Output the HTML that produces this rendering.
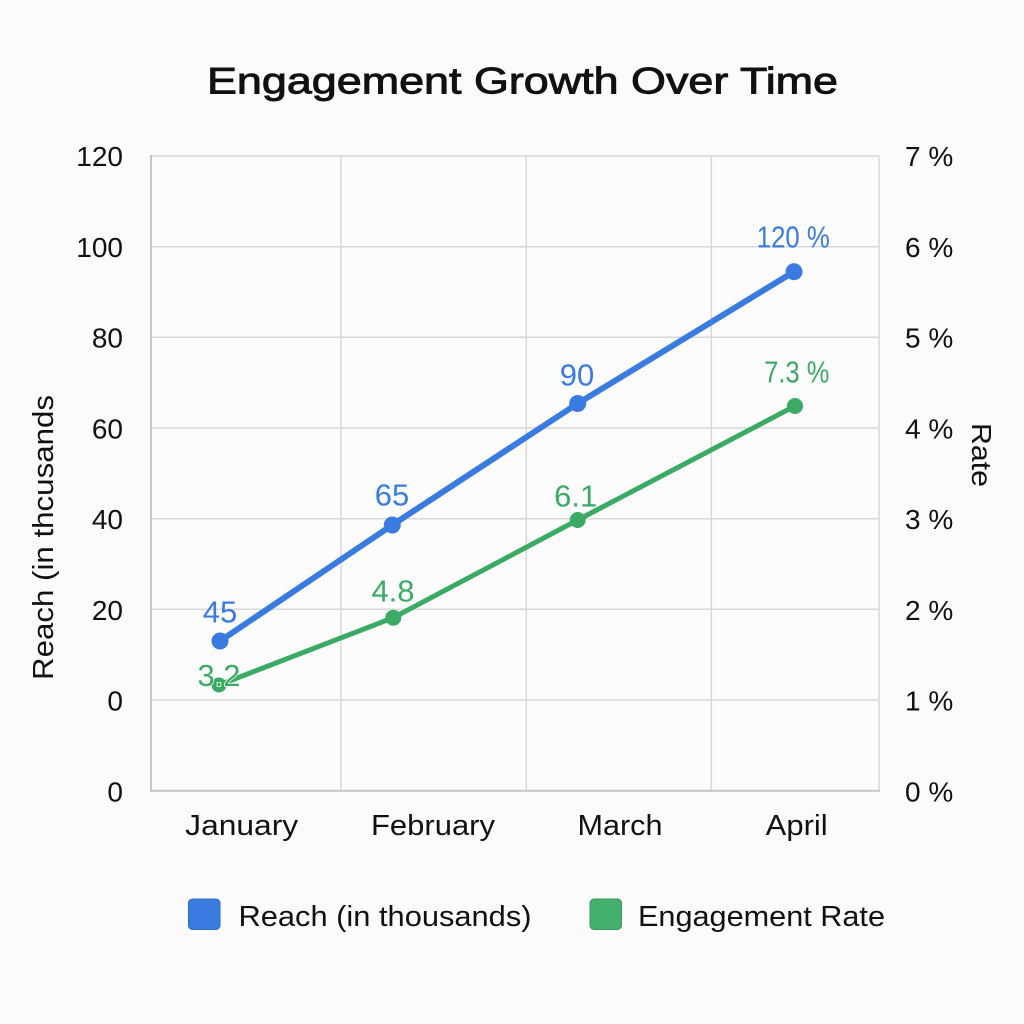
<!DOCTYPE html>
<html>
<head>
<meta charset="utf-8">
<style>
  html, body { margin:0; padding:0; background:#fbfbfb; }
  svg { display:block; }
  text { font-family: "Liberation Sans", "DejaVu Sans", sans-serif; }
</style>
</head>
<body>
<svg width="1024" height="1024" viewBox="0 0 1024 1024" xmlns="http://www.w3.org/2000/svg">
  <rect x="0" y="0" width="1024" height="1024" fill="#fbfbfb"/>

  <!-- Title -->
  <text x="522.5" y="93.5" font-size="37" fill="#111" stroke="#111" stroke-width="0.9" text-anchor="middle" textLength="631" lengthAdjust="spacingAndGlyphs">Engagement Growth Over Time</text>

  <!-- Plot background -->
  <rect x="151" y="156" width="728" height="635" fill="#fcfcfc"/>

  <!-- Horizontal gridlines -->
  <g stroke="#d8d8d8" stroke-width="1.5">
    <line x1="151" y1="156" x2="879" y2="156"/>
    <line x1="151" y1="246.7" x2="879" y2="246.7"/>
    <line x1="151" y1="337.3" x2="879" y2="337.3"/>
    <line x1="151" y1="428" x2="879" y2="428"/>
    <line x1="151" y1="518.7" x2="879" y2="518.7"/>
    <line x1="151" y1="609.3" x2="879" y2="609.3"/>
    <line x1="151" y1="700" x2="879" y2="700"/>
  </g>
  <!-- Vertical gridlines -->
  <g stroke="#d8d8d8" stroke-width="1.5">
    <line x1="341" y1="156" x2="341" y2="791"/>
    <line x1="526.3" y1="156" x2="526.3" y2="791"/>
    <line x1="711.3" y1="156" x2="711.3" y2="791"/>
    <line x1="879" y1="156" x2="879" y2="791"/>
  </g>
  <!-- Axes frame -->
  <g stroke="#c6c6c6" stroke-width="2">
    <line x1="151" y1="155" x2="151" y2="791"/>
    <line x1="150" y1="790.7" x2="880" y2="790.7"/>
  </g>

  <!-- Left tick labels -->
  <g font-size="28" fill="#111" text-anchor="end">
    <text x="123" y="166">120</text>
    <text x="123" y="257">100</text>
    <text x="123" y="347.5">80</text>
    <text x="123" y="438.5">60</text>
    <text x="123" y="529">40</text>
    <text x="123" y="620">20</text>
    <text x="123" y="710.5">0</text>
    <text x="123" y="801.5">0</text>
  </g>

  <!-- Right tick labels -->
  <g font-size="28" fill="#111">
    <text x="905" y="166">7 %</text>
    <text x="905" y="257">6 %</text>
    <text x="905" y="347.5">5 %</text>
    <text x="905" y="438.5">4 %</text>
    <text x="905" y="529">3 %</text>
    <text x="905" y="620">2 %</text>
    <text x="905" y="710.5">1 %</text>
    <text x="905" y="801.5">0 %</text>
  </g>

  <!-- X labels -->
  <g font-size="29" fill="#111" text-anchor="middle">
    <text x="241.7" y="835" textLength="113" lengthAdjust="spacingAndGlyphs">January</text>
    <text x="433" y="835" textLength="124" lengthAdjust="spacingAndGlyphs">February</text>
    <text x="620" y="835" textLength="85" lengthAdjust="spacingAndGlyphs">March</text>
    <text x="796.7" y="835" textLength="62" lengthAdjust="spacingAndGlyphs">April</text>
  </g>

  <!-- Axis titles -->
  <text transform="translate(53,537.5) rotate(-90)" font-size="29" fill="#111" text-anchor="middle" textLength="285" lengthAdjust="spacingAndGlyphs">Reach (in thcusands</text>
  <text transform="translate(972,455) rotate(90)" font-size="28" fill="#111" text-anchor="middle" textLength="64" lengthAdjust="spacingAndGlyphs">Rate</text>

  <!-- Blue series -->
  <polyline points="220,641 392.3,525 577.7,403.5 794,271.7" fill="none" stroke="#3a7be0" stroke-width="6" stroke-linejoin="round" stroke-linecap="round"/>
  <g fill="#3a7be0">
    <circle cx="220" cy="641" r="8.5"/>
    <circle cx="392.3" cy="525" r="8.5"/>
    <circle cx="577.7" cy="403.5" r="8.5"/>
    <circle cx="794" cy="271.7" r="8.5"/>
  </g>

  <!-- Green series -->
  <polyline points="219,685 393.3,617.7 577.7,520 795,406" fill="none" stroke="#3aaa64" stroke-width="5" stroke-linejoin="round" stroke-linecap="round"/>
  <g fill="#3aaa64">
    <circle cx="219" cy="685" r="7.5"/>
    <circle cx="393.3" cy="617.7" r="8"/>
    <circle cx="577.7" cy="520" r="8"/>
    <circle cx="795" cy="406" r="8"/>
  </g>

  <!-- Data labels blue -->
  <g font-size="31" fill="#3a7be0" text-anchor="middle">
    <text x="220" y="622.3">45</text>
    <text x="392" y="505.7">65</text>
    <text x="577" y="385.7">90</text>
    <text x="793.3" y="247.3" textLength="73" lengthAdjust="spacingAndGlyphs">120 %</text>
  </g>
  <!-- Data labels green -->
  <g font-size="31" fill="#3aaa64" text-anchor="middle">
    <text x="219" y="686" stroke="#fbfbfb" stroke-width="1.5" paint-order="stroke">3.2</text>
    <text x="393" y="601.7">4.8</text>
    <text x="575.7" y="506.7">6.1</text>
    <text x="796.8" y="382.3" textLength="65" lengthAdjust="spacingAndGlyphs">7.3 %</text>
  </g>

  <!-- Legend -->
  <rect x="188.5" y="899" width="31.5" height="30.5" rx="4" fill="#3a7be0" stroke="#2f6cc9" stroke-width="1"/>
  <text x="238.5" y="926" font-size="29" fill="#111" textLength="293" lengthAdjust="spacingAndGlyphs">Reach (in thousands)</text>
  <rect x="590" y="899" width="31.5" height="30.5" rx="4" fill="#45b06e" stroke="#3a9a5e" stroke-width="1"/>
  <text x="638" y="926" font-size="29" fill="#111" textLength="247" lengthAdjust="spacingAndGlyphs">Engagement Rate</text>
</svg>
</body>
</html>
